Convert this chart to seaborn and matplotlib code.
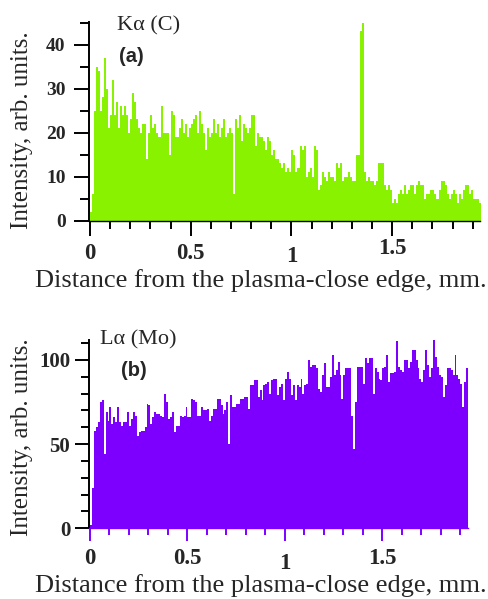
import numpy as np
import pandas as pd
import seaborn as sns
import matplotlib
matplotlib.use("Agg")
import matplotlib.pyplot as plt
from matplotlib.ticker import MultipleLocator

# ---------------- data (0.01 mm bins) ----------------
bin_width_mm = 0.01
carbon_ka = [
    2, 6, 25, 35, 34, 25, 28, 37, 30, 21, 24, 32, 24, 27, 21, 26, 24, 26, 24, 20,
    23, 29, 27, 23, 21, 20, 22, 22, 14, 20, 24, 21, 22, 20, 19, 26, 20, 20, 20, 15,
    25, 24, 19, 19, 21, 23, 20, 22, 19, 21, 22, 23, 24, 20, 25, 22, 20, 16, 21, 19,
    20, 23, 20, 22, 19, 21, 23, 19, 20, 21, 20, 6, 23, 21, 24, 18, 22, 21, 20, 21,
    24, 24, 17, 20, 19, 19, 18, 16, 19, 18, 15, 16, 14, 14, 13, 12, 13, 11, 12, 11,
    16, 15, 11, 12, 17, 16, 17, 10, 11, 12, 10, 17, 16, 7, 8, 11, 10, 9, 11, 10,
    10, 9, 13, 12, 13, 9, 10, 10, 11, 10, 9, 9, 15, 15, 43, 45, 11, 9, 10, 9,
    9, 8, 9, 13, 13, 13, 8, 7, 8, 7, 4, 5, 4, 6, 7, 6, 8, 6, 7, 8,
    8, 6, 8, 9, 8, 8, 5, 6, 6, 7, 7, 6, 5, 7, 9, 9, 8, 6, 5, 6,
    7, 6, 4, 6, 5, 7, 8, 8, 6, 7, 5, 5, 5, 4,
]
molybdenum_la = [
    2, 24, 58, 60, 63, 75, 76, 44, 69, 64, 72, 62, 66, 63, 72, 63, 61, 63, 63, 69,
    61, 65, 69, 67, 55, 57, 58, 58, 60, 74, 73, 62, 66, 69, 68, 68, 67, 66, 80, 75,
    65, 66, 69, 57, 61, 61, 67, 66, 67, 72, 66, 66, 77, 76, 75, 67, 67, 72, 70, 70,
    71, 64, 67, 71, 71, 77, 77, 73, 68, 70, 75, 50, 79, 72, 72, 74, 74, 77, 77, 78,
    78, 71, 85, 85, 88, 88, 78, 82, 76, 85, 86, 87, 80, 88, 89, 89, 79, 84, 86, 76,
    89, 93, 89, 79, 85, 76, 85, 84, 89, 80, 85, 86, 100, 96, 97, 97, 95, 83, 81, 91,
    98, 84, 84, 90, 103, 91, 94, 99, 91, 77, 91, 95, 95, 95, 67, 47, 75, 96, 96, 96,
    86, 101, 98, 101, 101, 80, 95, 93, 89, 88, 95, 96, 103, 87, 92, 92, 93, 111, 96, 94,
    93, 100, 100, 95, 99, 106, 106, 100, 95, 89, 87, 94, 106, 97, 90, 95, 114, 102, 96, 91,
    90, 78, 85, 95, 95, 94, 91, 103, 91, 89, 86, 72, 87, 95,
]
x_ticks = [0, 0.5, 1, 1.5]
x_tick_labels = ["0", "0.5", "1", "1.5"]
a_y_ticks = [0, 10, 20, 30, 40]
b_y_ticks = [0, 50, 100]
x_label = "Distance from the plasma-close edge, mm."
y_label = "Intensity, arb. units."

# ---------------- style ----------------
sns.set_style("ticks")
plt.rcParams["font.family"] = ["Liberation Serif", "DejaVu Serif"]

GREEN = "#88f200"
VIOLET = "#7d00ff"

W, H = 489, 599
fig = plt.figure(figsize=(W / 100, H / 100), dpi=100)


def frac_box(left_px, right_px, top_px, bottom_px):
    return [left_px / W, 1 - bottom_px / H, (right_px - left_px) / W, (bottom_px - top_px) / H]


def draw_panel(ax, values, color, xlim, ylim, yticks, yminor, ytick_fs, ypad,
               xtick_color, xmaj_len, xmin_len, ymaj_len, ymin_len, label_pads):
    n = len(values)
    centers = (np.arange(n) + 0.5) * bin_width_mm
    df = pd.DataFrame({"distance": centers, "intensity": values})
    sns.histplot(data=df, x="distance", weights="intensity",
                 binwidth=bin_width_mm, binrange=(0, n * bin_width_mm),
                 element="step", fill=True, color=color, alpha=1,
                 linewidth=0, ax=ax)
    ax.set_xlim(*xlim)
    ax.set_ylim(*ylim)
    ax.set_xlabel("")
    ax.set_ylabel("")
    for s in ("top", "right"):
        ax.spines[s].set_visible(False)
    ax.spines["left"].set_color("black")
    ax.spines["left"].set_linewidth(1.4)
    ax.spines["bottom"].set_color(xtick_color)
    ax.spines["bottom"].set_linewidth(1.0)
    ax.set_facecolor("none")

    ax.set_xticks(x_ticks)
    ax.set_xticklabels(x_tick_labels, fontsize=16.5, fontweight="bold")
    ax.xaxis.set_minor_locator(MultipleLocator(0.1))
    ax.set_yticks(yticks)
    ax.set_yticklabels([str(v) for v in yticks], fontsize=ytick_fs, fontweight="bold")
    ax.yaxis.set_minor_locator(MultipleLocator(yminor))

    ax.tick_params(axis="x", which="major", direction="out", length=xmaj_len,
                   width=1.4, color=xtick_color, bottom=True, pad=4)
    ax.tick_params(axis="x", which="minor", direction="out", length=xmin_len,
                   width=1.4, color=xtick_color, bottom=True)
    ax.tick_params(axis="y", which="major", direction="out", length=ymaj_len,
                   width=1.4, color="black", left=True, pad=ypad)
    ax.tick_params(axis="y", which="minor", direction="out", length=ymin_len,
                   width=1.4, color="black", left=True)
    for tick, pad in zip(ax.xaxis.get_major_ticks(), label_pads):
        tick.set_pad(pad)


# ---------------- panel (a) ----------------
axA = fig.add_axes(frac_box(89, 480, 21.8, 220.7))
draw_panel(axA, carbon_ka, GREEN, (-0.005, 1.936), (0, 45.2), a_y_ticks, 5, 14, 6,
           "black", 11, 5.5, 10.8, 6.5, [5, 5, 7, 1.5])

# ---------------- panel (b) ----------------
axB = fig.add_axes(frac_box(89, 468, 339.8, 528.3))
draw_panel(axB, molybdenum_la, VIOLET, (-0.005, 1.939), (0, 112), b_y_ticks, 10, 15, 3.5,
           VIOLET, 9, 5, 10, 5.5, [5, 5, 9, 5])

# ---------------- texts ----------------
def ftext(x_px, y_px, s, **kw):
    fig.text(x_px / W, 1 - y_px / H, s, **kw)


ftext(117, 26, "K\u03b1 (C)", fontsize=16, ha="left", va="center")
ftext(119, 56, "(a)", fontsize=14.5, fontweight="bold", ha="left", va="center",
      family=["Liberation Sans", "DejaVu Sans"])
ftext(22, 130, y_label, fontsize=18, rotation=90, ha="center", va="center")
ftext(261, 281, x_label, fontsize=19, ha="center", va="center")

ftext(100, 340, "L\u03b1 (Mo)", fontsize=16, ha="left", va="center")
ftext(121, 370, "(b)", fontsize=14.5, fontweight="bold", ha="left", va="center",
      family=["Liberation Sans", "DejaVu Sans"])
ftext(22, 437, y_label, fontsize=18, rotation=90, ha="center", va="center")
ftext(261, 586, x_label, fontsize=19, ha="center", va="center")

fig.savefig("out.png", dpi=100, facecolor="white")
